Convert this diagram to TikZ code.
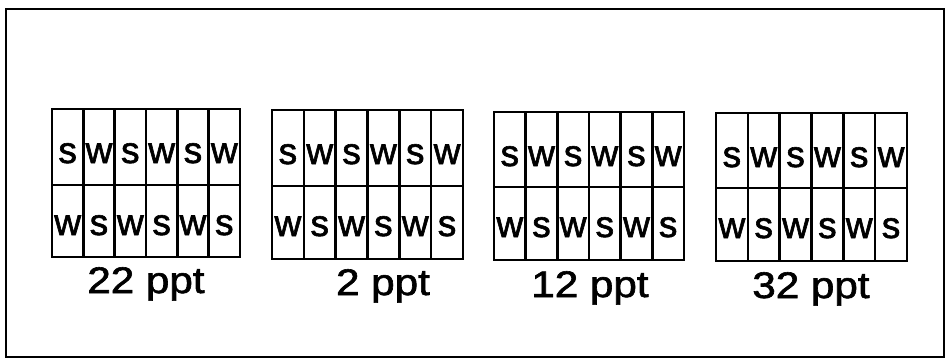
\documentclass[tikz,border=0pt]{standalone}
\usepackage{fontspec}
\setmainfont{Liberation Sans}[FakeBold=1.6]
\begin{document}
\begin{tikzpicture}[x=1pt,y=-1pt,
  frameline/.style={line width=2.4pt},
  gridline/.style={line width=2.4pt},
  cellletter/.style={inner sep=0pt,anchor=base,font=\fontsize{37}{40}\selectfont},
  caption/.style={inner sep=0pt,anchor=base,xscale=1.14,font=\fontsize{37}{40}\selectfont}]
\useasboundingbox (0,0) rectangle (948,359);
% outer frame
\draw[frameline] (6,9) rectangle (944,357);
% four 6x2 grids of s/w cells with their captions
\foreach \g/\L/\R/\T/\M/\B/\lab/\lx/\ly in {
    1/52/240/109/185/257/22 ppt/146/293,
    2/272/463/110/186/259/2 ppt/383/295,
    3/494/684/112/187/260/12 ppt/590/297,
    4/716/907/113/188/261/32 ppt/811/298}{
  \draw[gridline] (\L,\T) rectangle (\R,\B);
  \draw[gridline] (\L,\M) -- (\R,\M);
  \foreach \i in {1,...,5}
    \draw[gridline] ({\L+\i*(\R-\L)/6},\T) -- ({\L+\i*(\R-\L)/6},\B);
  \foreach \i/\a/\b in {0/s/w,1/w/s,2/s/w,3/w/s,4/s/w,5/w/s}{
    \node[cellletter] (g\g-\i-top) at ({\L+(\i+0.5)*(\R-\L)/6},{\T+54}) {\a};
    \node[cellletter] (g\g-\i-bot) at ({\L+(\i+0.5)*(\R-\L)/6},{\M+50}) {\b};
  }
  \node[caption] (cap\g) at (\lx,\ly) {\lab};
}
\end{tikzpicture}
\end{document}
